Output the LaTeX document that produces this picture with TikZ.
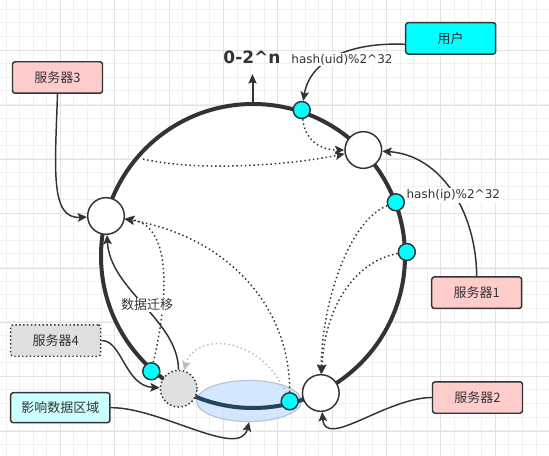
\documentclass[tikz,border=0pt]{standalone}
\usepackage{fontspec}
\setmainfont{DejaVu Sans}
\newfontfamily\cjk{Noto Sans CJK SC}
\usetikzlibrary{arrows.meta,shapes.geometric}
\definecolor{ink}{HTML}{333333}
\definecolor{navy}{HTML}{23445D}
\definecolor{cyanc}{HTML}{00FFFF}
\definecolor{pinkc}{HTML}{FFCCCC}
\definecolor{grayfill}{HTML}{E0E0E0}
\definecolor{lightcyan}{HTML}{CCFFFF}
\definecolor{ellfill}{HTML}{CCE5FF}
\definecolor{ellstroke}{HTML}{B4C6D8}
\definecolor{lightarrow}{HTML}{BDBDBD}
\definecolor{gridminor}{HTML}{F0F0F0}
\definecolor{gridmajor}{HTML}{E2E2E2}
\begin{document}
\begin{tikzpicture}[x=0.75pt,y=-0.75pt,
  box/.style={draw=ink, line width=1.1pt, rounded corners=2pt, minimum width=67.5pt,
    minimum height=23.6pt, inner sep=0pt, text=ink, font=\cjk\fontsize{9.75pt}{11pt}\selectfont},
  srv/.style={circle, draw=ink, fill=white, line width=1.1pt, minimum size=27.5pt, inner sep=0pt},
  dotc/.style={circle, draw=ink, fill=cyanc, line width=1.1pt, minimum size=12.75pt, inner sep=0pt},
  conn/.style={draw=ink, line width=1.1pt, -{Stealth[length=7pt,width=6.5pt,inset=1.5pt]}},
  dots/.style={conn, dash pattern=on 1.1pt off 2.1pt},
  dotsgray/.style={draw=lightarrow, line width=1.1pt, dash pattern=on 1.1pt off 2.1pt,
    -{Stealth[length=7pt,width=6.5pt,inset=1.5pt,fill=lightarrow]}},
  lbl/.style={text=ink, inner sep=1pt, font=\fontsize{9pt}{10pt}\selectfont},
  cjklbl/.style={text=ink, inner sep=1pt, font=\cjk\fontsize{9.75pt}{11pt}\selectfont},
  dotborder/.style={dash pattern=on 1.1pt off 1.8pt}
]
\useasboundingbox (0,0) rectangle (549,456);
\fill[white] (0,0) rectangle (549,456);
% grid
\foreach \i in {0,...,40} \draw[gridminor, line width=0.7pt] ({6+13.59*\i},0) -- ({6+13.59*\i},456);
\foreach \j in {0,...,33} \draw[gridminor, line width=0.7pt] (0,{9.3+13.59*\j}) -- (549,{9.3+13.59*\j});
\foreach \i in {0,...,8} \draw[gridmajor, line width=0.7pt] ({60.4+54.36*\i},0) -- ({60.4+54.36*\i},456);
\foreach \j in {0,...,7} \draw[gridmajor, line width=0.7pt] (0,{50.7+54.36*\j}) -- (549,{50.7+54.36*\j});

% ring
\draw[ink, line width=3pt, fill=white] (253,256) circle [radius=114pt];
% affected area
\node[ellipse, draw=ellstroke, line width=0.9pt, fill=ellfill, fill opacity=0.85,
  minimum width=78.75pt, minimum height=30.75pt, inner sep=0pt] (area) at (249,401) {};
\draw[navy, line width=3pt] plot[domain=63.7:119.2, samples=50, smooth]
  ({253+152*cos(\x)},{256+152*sin(\x)});

% top arrow
\coordinate (ringtop) at (252.5,103);
\coordinate (toptip) at (252.5,74);
\draw[ink, line width=1.5pt, -{Stealth[length=7pt,width=6pt,inset=1pt]}] (ringtop) -- (toptip);

% server nodes on ring
\node[srv] (nL) at (106,216) {};
\node[srv] (nR) at (363.3,150) {};
\node[srv] (nB) at (320.8,393) {};
\node[srv, fill=grayfill, dotborder] (nG) at (178.7,388.7) {};
% hash points
\node[dotc] (c1) at (301.7,110) {};
\node[dotc] (c2) at (395.8,202.3) {};
\node[dotc] (c3) at (406.8,252) {};
\node[dotc] (c4) at (151.3,371.3) {};
\node[dotc] (c5) at (289.7,401.3) {};

% boxes
\node[box, fill=pinkc] (s3) at (57.5,77.5) {服务器3};
\node[box, fill=cyanc] (user) at (450.7,38.3) {用户};
\node[box, fill=pinkc] (s1) at (476.7,292.7) {服务器1};
\node[box, fill=pinkc] (s2) at (477.5,397.5) {服务器2};
\node[box, fill=grayfill, dotborder] (s4) at (55.7,340.5) {服务器4};
\node[box, fill=lightcyan, minimum width=74.5pt, minimum height=22.5pt] (impact) at (60.3,407.7) {影响数据区域};

% solid connectors
\draw[conn] ([yshift=-4.5pt]user.west) .. controls (350,42) and (310,60) .. (c1);
\draw[conn] (s3.south) .. controls (55,170) and (50,219) .. (nL);
\draw[conn] (s1.north) .. controls (476,210) and (440,155) .. (nR);
\draw[conn] (s2.west) .. controls (385,398) and (325,450) .. (nB);
\draw[conn] (s4.east) .. controls (122,340) and (125,386) .. (nG);
\draw[conn] (impact.east) .. controls (160,407) and (240,460) .. (area.south);
\draw[conn] (nG) .. controls (178,320) and (110,290) .. (nL);

% dotted connectors
\coordinate (h1s) at (143,159);
\draw[dots] (h1s) .. controls (200,172) and (290,165) .. (nR);
\draw[dots] (c1) .. controls (305,140) and (320,150) .. (nR);
\draw[dots] (c2) .. controls (350,220) and (322,300) .. (nB);
\draw[dots] (c3) .. controls (360,260) and (325,300) .. (nB);
\draw[dots] (c5) .. controls (290,300) and (220,235) .. (nL);
\draw[dots] (c4) .. controls (170,290) and (170,225) .. (nL);
\draw[dotsgray] (c5) .. controls (260,335) and (195,332) .. (nG);

% labels
\node[text=ink, inner sep=1pt, font=\bfseries\fontsize{12.75pt}{14pt}\selectfont] (l0) at (252,57) {0-2\textasciicircum n};
\node[lbl, fill=white] (luid) at (342,59.5) {hash(uid)\%2\textasciicircum 32};
\node[lbl, fill=white] (lip) at (453.3,195.5) {hash(ip)\%2\textasciicircum 32};
\node[cjklbl, fill=white] (lmig) at (147,305) {数据迁移};
\end{tikzpicture}
\end{document}
